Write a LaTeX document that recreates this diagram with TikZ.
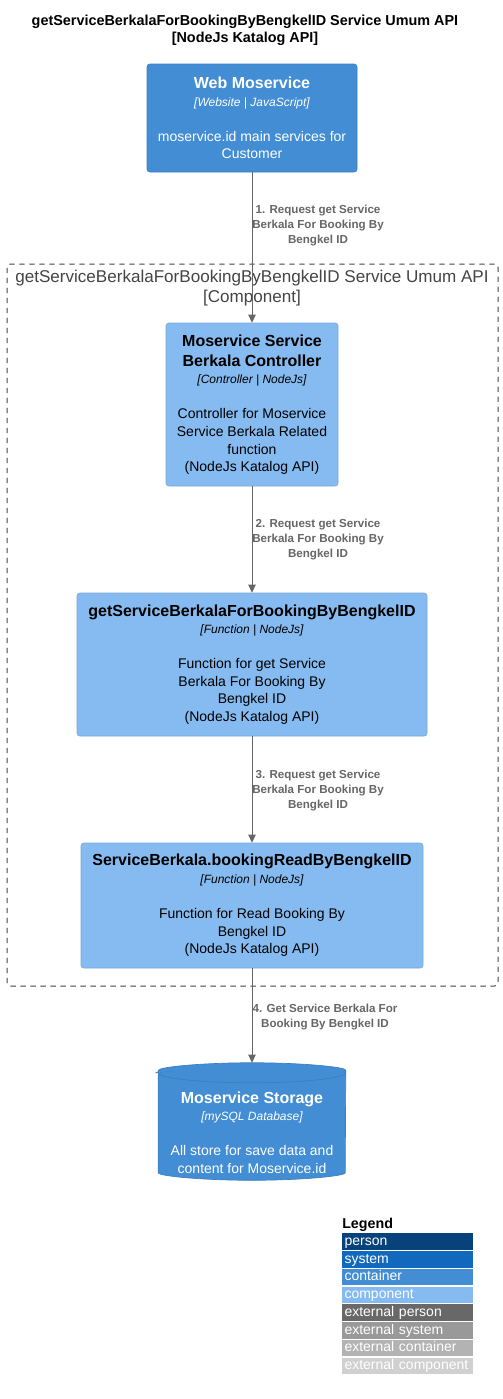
\documentclass[tikz,border=0pt]{standalone}
\usepackage{fontspec}
\setmainfont{Liberation Sans}
\usetikzlibrary{arrows.meta,backgrounds,calc}
\definecolor{person}{HTML}{08427B}
\definecolor{system}{HTML}{1168BD}
\definecolor{container}{HTML}{438DD5}
\definecolor{component}{HTML}{85BBF0}
\definecolor{extperson}{HTML}{686868}
\definecolor{extsystem}{HTML}{999999}
\definecolor{extcontainer}{HTML}{B3B3B3}
\definecolor{extcomponent}{HTML}{D0D0D0}
\definecolor{containerline}{HTML}{3C7FC0}
\definecolor{componentline}{HTML}{78A8D8}
\definecolor{relcol}{HTML}{666666}
\definecolor{bndcol}{HTML}{444444}
\newcommand{\eltitle}[1]{{\bfseries\fontsize{12}{15}\selectfont #1}}
\newcommand{\eltech}[1]{{\itshape\fontsize{9}{11}\selectfont[#1]}}
\begin{document}
\begin{tikzpicture}[x=0.75pt,y=-0.75pt,
  container/.style={draw=containerline,fill=container,text=white,rounded corners=2pt,align=center,font=\fontsize{10.5}{13.2}\selectfont},
  component/.style={draw=componentline,fill=component,text=black,rounded corners=2pt,align=center,font=\fontsize{10.5}{13.2}\selectfont},
  boundary/.style={draw=bndcol,line width=0.75pt,dash pattern=on 4pt off 3.5pt,rounded corners=2.5pt},
  rel/.style={draw=relcol,line width=0.75pt,-{Triangle[length=6pt,width=5.5pt]}},
  rellabel/.style={text=relcol,align=center,font=\bfseries\fontsize{8.7}{11.25}\selectfont},
  legendrow/.style={anchor=north west,text=white,text width=126.5*0.75pt,text height=7.8pt,text depth=2.3pt,inner xsep=1.7pt,inner ysep=1.2pt,align=left,font=\fontsize{10.5}{12}\selectfont}]
\useasboundingbox (0,0) rectangle (503,1399);
\node[align=center,font=\bfseries\fontsize{10.8}{12.75}\selectfont] (title) at (245,30) {getServiceBerkalaForBookingByBengkelID Service Umum API\\\mbox{[NodeJs Katalog API]}};
\node[boundary,minimum width=491*0.75pt,minimum height=722*0.75pt] (bnd) at (252.5,625) {};
\node[align=center,text=bndcol,font=\fontsize{12.8}{15}\selectfont] (bndtitle) at (252,288) {getServiceBerkalaForBookingByBengkelID Service Umum API\\\mbox{[Component]}};
\node[container,minimum width=210*0.75pt,minimum height=108*0.75pt] (web) at (252,118) {\eltitle{Web Moservice}\\\eltech{Website | JavaScript}\\[13pt]moservice.id main services for\\Customer};
\node[component,minimum width=172*0.75pt,minimum height=163*0.75pt] (ctrl) at (252,404.5) {\eltitle{Moservice Service}\\[2pt]\eltitle{Berkala Controller}\\\eltech{Controller | NodeJs}\\[13pt]Controller for Moservice\\Service Berkala Related\\function\\(NodeJs Katalog API)};
\node[component,minimum width=350*0.75pt,minimum height=143*0.75pt] (getfn) at (252,664.5) {\eltitle{getServiceBerkalaForBookingByBengkelID}\\\eltech{Function | NodeJs}\\[13pt]Function for get Service\\Berkala For Booking By\\Bengkel ID\\(NodeJs Katalog API)};
\node[component,minimum width=342*0.75pt,minimum height=125*0.75pt] (readfn) at (252,905.5) {\eltitle{ServiceBerkala.bookingReadByBengkelID}\\\eltech{Function | NodeJs}\\[13pt]Function for Read Booking By\\Bengkel ID\\(NodeJs Katalog API)};
\node[align=center,text=white,font=\fontsize{10.5}{13.2}\selectfont,minimum width=187*0.75pt,minimum height=97*0.75pt] (db) at (252,1132.5) {\eltitle{Moservice Storage}\\\eltech{mySQL Database}\\[13pt]All store for save data and\\content for Moservice.id};
\begin{scope}[on background layer]
\coordinate (dbl) at ($(db.north west)+(0,-11)$);
\coordinate (dbr) at ($(db.north east)+(0,-11)$);
\fill[container,draw=containerline,line width=0.5pt] (dbl) -- ($(db.south west)+(0,-11)$) arc[start angle=180,end angle=0,x radius=93.5,y radius=10] -- (dbr) arc[start angle=0,end angle=-180,x radius=93.5,y radius=10] -- cycle;
\draw[containerline,line width=0.5pt] (dbl) arc[start angle=180,end angle=0,x radius=93.5,y radius=10];
\end{scope}
\coordinate (dbtop) at ($(db.north)+(0,-21)$);
\draw[rel] (web) -- (ctrl);
\node[rellabel] (rel1) at (318,226) {1. Request get Service\\Berkala For Booking By\\Bengkel ID};
\draw[rel] (ctrl) -- (getfn);
\node[rellabel] (rel2) at (318,540) {2. Request get Service\\Berkala For Booking By\\Bengkel ID};
\draw[rel] (getfn) -- (readfn);
\node[rellabel] (rel3) at (318,790.5) {3. Request get Service\\Berkala For Booking By\\Bengkel ID};
\draw[rel] (readfn) -- (dbtop);
\node[rellabel] (rel4) at (325,1017.5) {4. Get Service Berkala For\\Booking By Bengkel ID};
\node[anchor=west,font=\bfseries\fontsize{10.7}{12}\selectfont,inner xsep=0pt] (legend) at (342,1225) {Legend};
\foreach \lbl/\col [count=\i] in {person/person,system/system,container/container,component/component,external person/extperson,external system/extsystem,external container/extcontainer,external component/extcomponent}
  \node[legendrow,fill=\col] (leg\i) at (342,{1233+(\i-1)*17.75}) {\lbl};
\end{tikzpicture}
\end{document}
